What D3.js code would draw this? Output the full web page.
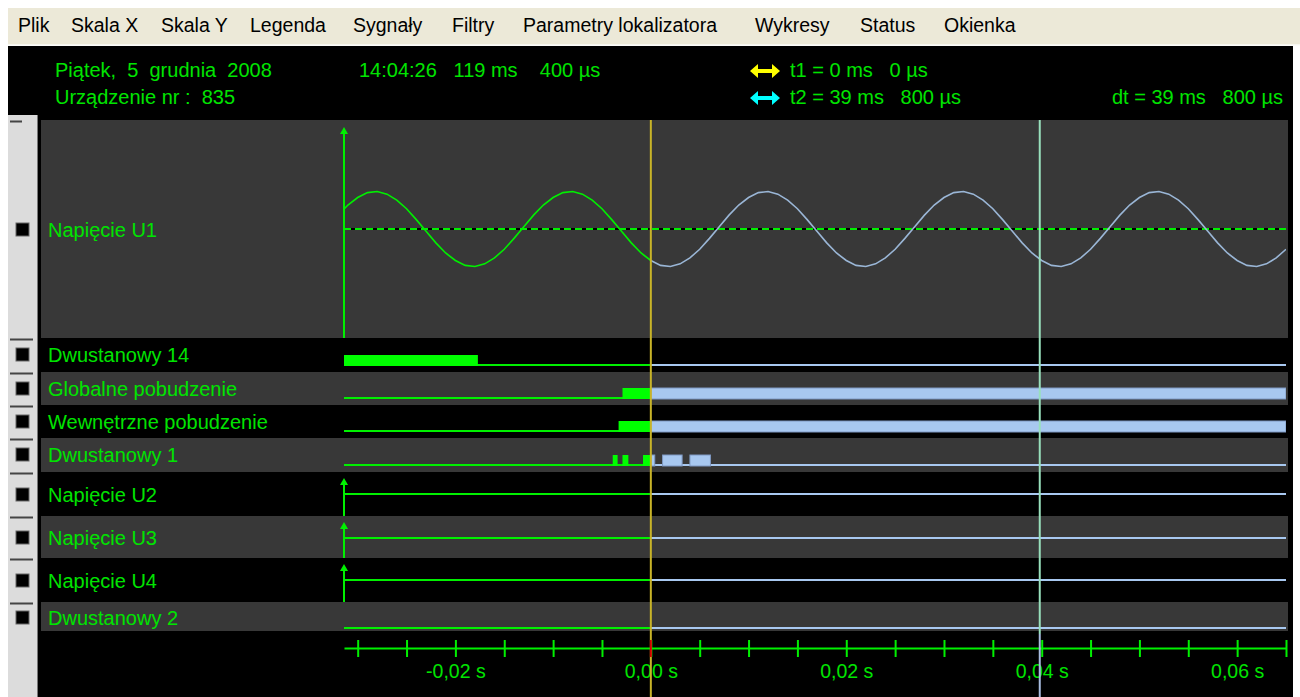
<!DOCTYPE html>
<html lang="pl">
<head>
<meta charset="UTF-8">
<title>Napięcie U1</title>
<script src="https://cdn.jsdelivr.net/npm/d3@7"></script>
<style>
    body { margin: 0; background: #fff; }
    text { font-family: "Liberation Sans", Arial, sans-serif; white-space: pre; }
</style>
</head>
<body>
<svg width="1300" height="697" id="mainsvg"></svg>
<script>
    // --- data ---
    const menuItems = ['Plik', 'Skala X', 'Skala Y', 'Legenda', 'Sygnały', 'Filtry', 'Parametry lokalizatora', 'Wykresy', 'Status', 'Okienka'];
    const signalNames = ['Napięcie U1', 'Dwustanowy 14', 'Globalne pobudzenie', 'Wewnętrzne pobudzenie', 'Dwustanowy 1',
        'Napięcie U2', 'Napięcie U3', 'Napięcie U4', 'Dwustanowy 2'];
    const signalTypes = ['analog', 'digital', 'digital', 'digital', 'digital', 'analog', 'analog', 'analog', 'digital'];

    // U1 samples, 1 ms apart, first sample at -32 ms
    const u1Start = -32;
    const u1Values = [
        0.37, 0.64, 0.84, 0.97, 1.00, 0.93, 0.77, 0.54, 0.25, -0.06, -0.37, -0.64, -0.84, -0.97, -1.00, -0.93, -0.77, -0.54, -0.25, 0.06,
        0.37, 0.64, 0.84, 0.97, 1.00, 0.93, 0.77, 0.54, 0.25, -0.06, -0.37, -0.64, -0.84, -0.97, -1.00, -0.93, -0.77, -0.54, -0.25, 0.06,
        0.37, 0.64, 0.84, 0.97, 1.00, 0.93, 0.77, 0.54, 0.25, -0.06, -0.37, -0.64, -0.84, -0.97, -1.00, -0.93, -0.77, -0.54, -0.25, 0.06,
        0.37, 0.64, 0.84, 0.97, 1.00, 0.93, 0.77, 0.54, 0.25, -0.06, -0.37, -0.64, -0.84, -0.97, -1.00, -0.93, -0.77, -0.54, -0.25, 0.06,
        0.37, 0.64, 0.84, 0.97, 1.00, 0.93, 0.77, 0.54, 0.25, -0.06, -0.37, -0.64, -0.84, -0.97, -1.00, -0.93, -0.77, -0.54
    ];
    const u2Values = [0, 0, 0];
    const u3Values = [0, 0, 0];
    const u4Values = [0, 0, 0];
    const flatTimes = [-31.4, 0, 65];

    // high states of two-state signals, [from, to] in ms
    const d14High = [[-31.4, -17.7]];
    const globHigh = [[-2.9, 65]];
    const wewHigh = [[-3.3, 65]];
    const d1High = [[-3.9, -3.4], [-2.9, -2.3], [-0.8, 0.4], [1.2, 3.2], [4.0, 6.1]];
    const d2High = [];

    const t1 = 0, t2 = 39.8;
    const tickMs = [-30, -25, -20, -15, -10, -5, 0, 5, 10, 15, 20, 25, 30, 35, 40, 45, 50, 55, 60, 65];
    const labelMs = [-20, 0, 20, 40, 60];
    const tickLabels = ['-0,02 s', '0,00 s', '0,02 s', '0,04 s', '0,06 s'];

    // --- layout ---
    const rowTop = [120, 338, 372, 405, 438, 472, 516, 558, 602];
    const rowBottom = [338, 372, 405, 438, 472, 516, 558, 602, 631];
    const labelBase = [237, 362, 396, 429, 462, 502, 545, 588, 625];
    const baseOff = [0, 7, 7, 7, 7, 0, 0, 0, 3];

    const GREEN = '#00f000', TXT = '#00e400', BLUE = '#a8c8f0', BLUE_WAVE = '#9ab6d6';

    const svg = d3.select('#mainsvg');
    const x = d3.scaleLinear().domain([-31.4, 65]).range([344, 1286]);
    const yU1 = d3.scaleLinear().domain([-1, 1]).range([266.5, 191.5]);

    // frame
    svg.append('rect').attr('x', 8).attr('y', 8).attr('width', 1292).attr('height', 37).attr('fill', '#ece9d8');
    svg.append('line').attr('x1', 8).attr('x2', 1300).attr('y1', 45).attr('y2', 45).attr('stroke', '#fbfbf8').attr('stroke-width', 1.5);
    svg.append('rect').attr('x', 8).attr('y', 46).attr('width', 1285).attr('height', 651).attr('fill', '#000');
    svg.append('rect').attr('x', 8).attr('y', 115).attr('width', 29).attr('height', 582).attr('fill', '#dcdcdc');
    svg.append('line').attr('x1', 37.5).attr('x2', 37.5).attr('y1', 115).attr('y2', 697).attr('stroke', '#777');

    const menuX = [18, 71, 161, 250, 353, 452, 523, 755, 860, 944];
    svg.append('g').selectAll('text').data(menuItems).enter().append('text')
        .attr('x', (d, i) => menuX[i]).attr('y', 32)
        .attr('font-size', 19.5).attr('fill', '#000')
        .text(d => d);

    // header
    const head = svg.append('g').attr('fill', TXT).attr('font-size', 20);
    head.append('text').attr('x', 55).attr('y', 77).text('Piątek,  5  grudnia  2008');
    head.append('text').attr('x', 55).attr('y', 104).text('Urządzenie nr :  835');
    head.append('text').attr('x', 359).attr('y', 77).text('14:04:26   119 ms    400 µs');
    head.append('text').attr('x', 790).attr('y', 77).text('t1 = 0 ms   0 µs');
    head.append('text').attr('x', 790).attr('y', 104).text('t2 = 39 ms   800 µs');
    head.append('text').attr('x', 1283).attr('y', 104).attr('text-anchor', 'end').text('dt = 39 ms   800 µs');

    function dblArrow(cy, color) {
        const a = 750, b = 780;
        svg.append('path')
            .attr('d', `M${a},${cy} L${a + 8},${cy - 7} L${a + 8},${cy - 2} L${b - 8},${cy - 2} L${b - 8},${cy - 7} L${b},${cy} L${b - 8},${cy + 7} L${b - 8},${cy + 2} L${a + 8},${cy + 2} L${a + 8},${cy + 7} Z`)
            .attr('fill', color);
    }
    dblArrow(71, '#ffff00');
    dblArrow(98, '#00ffff');

    // rows: bands, left panel
    const rows = svg.append('g');
    signalNames.forEach((name, i) => {
        if (i % 2 === 0) {
            rows.append('rect').attr('x', 41).attr('y', rowTop[i])
                .attr('width', 1247).attr('height', rowBottom[i] - rowTop[i])
                .attr('fill', '#383838');
        }
        rows.append('text').attr('x', 48).attr('y', labelBase[i])
            .attr('font-size', 20).attr('fill', TXT).text(name);
        rows.append('line').attr('x1', 10).attr('x2', i === 0 ? 22 : 33)
            .attr('y1', rowTop[i] + 1.5).attr('y2', rowTop[i] + 1.5)
            .attr('stroke', '#444').attr('stroke-width', 2);
        rows.append('rect').attr('x', 16).attr('y', labelBase[i] - 14)
            .attr('width', 13).attr('height', 13)
            .attr('fill', '#000').attr('stroke', '#666').attr('stroke-width', 1);
    });

    const plot = svg.append('g');
    svg.append('clipPath').attr('id', 'plotclip').append('rect')
        .attr('x', x.range()[0]).attr('y', 100).attr('width', x.range()[1] - x.range()[0]).attr('height', 560);
    plot.attr('clip-path', 'url(#plotclip)');

    function vAxis(top, bottom) {
        svg.append('line').attr('x1', 344).attr('x2', 344).attr('y1', top).attr('y2', bottom)
            .attr('stroke', GREEN).attr('stroke-width', 2);
        svg.append('path').attr('d', `M344,${top - 3} L340,${top + 4} L348,${top + 4} Z`).attr('fill', GREEN);
    }

    // U1
    const u1 = u1Values.map((v, i) => ({ t: u1Start + i, v: v }));
    const lineU1 = d3.line().x(d => x(d.t)).y(d => yU1(d.v));
    plot.append('line').attr('x1', x.range()[0]).attr('x2', x.range()[1])
        .attr('y1', yU1(0)).attr('y2', yU1(0)).attr('stroke', '#000').attr('stroke-width', 2);
    plot.append('line').attr('x1', x.range()[0]).attr('x2', x.range()[1])
        .attr('y1', yU1(0)).attr('y2', yU1(0)).attr('stroke', GREEN).attr('stroke-width', 2)
        .attr('stroke-dasharray', '7,4');
    plot.append('path').datum(u1.filter(d => d.t <= t1)).attr('d', lineU1)
        .attr('fill', 'none').attr('stroke', GREEN).attr('stroke-width', 1.6);
    plot.append('path').datum(u1.filter(d => d.t >= t1)).attr('d', lineU1)
        .attr('fill', 'none').attr('stroke', BLUE_WAVE).attr('stroke-width', 1.6);
    vAxis(130, rowBottom[0]);

    // U2..U4 (flat)
    [u2Values, u3Values, u4Values].forEach((vals, k) => {
        const i = 5 + k;
        const yMid = rowTop[i] + 22;
        const pts = vals.map((v, j) => ({ t: flatTimes[j], v: v }));
        const ln = d3.line().x(d => x(d.t)).y(d => yMid - d.v);
        plot.append('path').datum(pts.filter(d => d.t <= t1)).attr('d', ln)
            .attr('fill', 'none').attr('stroke', GREEN).attr('stroke-width', 2);
        plot.append('path').datum(pts.filter(d => d.t >= t1)).attr('d', ln)
            .attr('fill', 'none').attr('stroke', BLUE).attr('stroke-width', 2);
        vAxis(rowTop[i] + 9, rowBottom[i]);
    });

    // two-state signals
    const digital = [[1, d14High], [2, globHigh], [3, wewHigh], [4, d1High], [8, d2High]];
    digital.forEach(([i, highs]) => {
        const yb = rowBottom[i] - baseOff[i];
        plot.append('line').attr('x1', x(x.domain()[0])).attr('x2', x(t1))
            .attr('y1', yb).attr('y2', yb).attr('stroke', GREEN).attr('stroke-width', 2);
        plot.append('line').attr('x1', x(t1)).attr('x2', x(x.domain()[1]))
            .attr('y1', yb).attr('y2', yb).attr('stroke', BLUE).attr('stroke-width', 2);
        const parts = [];
        highs.forEach(([a, b]) => {
            if (a < t1) parts.push({ a: a, b: Math.min(b, t1), c: 'g' });
            if (b > t1) parts.push({ a: Math.max(a, t1), b: b, c: 'b' });
        });
        plot.selectAll(null).data(parts).enter().append('rect')
            .attr('x', d => x(d.a)).attr('width', d => x(d.b) - x(d.a))
            .attr('y', yb - 10).attr('height', 11)
            .attr('fill', d => d.c === 'g' ? '#00ff00' : BLUE)
            .attr('stroke', d => d.c === 'g' ? 'none' : '#7e98c2')
            .attr('stroke-width', 1);
    });

    // time axis
    const axis = d3.axisBottom(x).tickValues(tickMs).tickSizeInner(9).tickSizeOuter(0)
        .tickFormat(d => { const k = labelMs.indexOf(d); return k < 0 ? '' : tickLabels[k]; });
    const ag = svg.append('g').attr('transform', 'translate(0,648)').call(axis);
    ag.select('.domain').attr('stroke', GREEN).attr('stroke-width', 2);
    ag.selectAll('.tick line').attr('stroke', GREEN).attr('stroke-width', 2).attr('y1', -8);
    ag.selectAll('.tick text').attr('fill', TXT).attr('font-size', 19.5)
        .attr('font-family', '"Liberation Sans", Arial, sans-serif').attr('y', 16).attr('dy', '0.71em');

    // cursors
    svg.append('line').attr('x1', x(t1)).attr('x2', x(t1)).attr('y1', 120).attr('y2', 697)
        .attr('stroke', '#c8b428').attr('stroke-width', 2);
    svg.append('line').attr('x1', x(t1)).attr('x2', x(t1)).attr('y1', 640).attr('y2', 657)
        .attr('stroke', '#d00000').attr('stroke-width', 2);
    svg.append('line').attr('x1', x(t2)).attr('x2', x(t2)).attr('y1', 120).attr('y2', 634)
        .attr('stroke', '#98e0bc').attr('stroke-width', 2);
    svg.append('line').attr('x1', x(t2)).attr('x2', x(t2)).attr('y1', 634).attr('y2', 697)
        .attr('stroke', '#a8bce0').attr('stroke-width', 2);
</script>
</body>
</html>
